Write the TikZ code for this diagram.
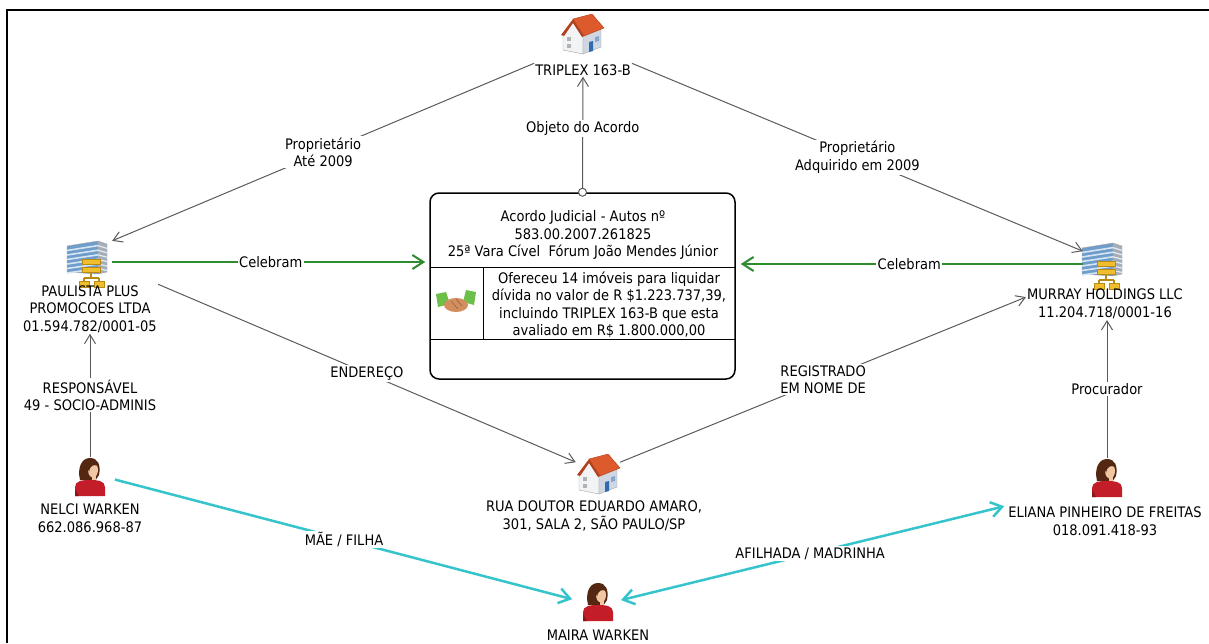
\documentclass[tikz,border=0pt]{standalone}
\usepackage{fontspec}
\setmainfont{DejaVu Sans}[FakeStretch=0.9]
\usetikzlibrary{arrows.meta}
\definecolor{conngray}{HTML}{5A5A5A}
\definecolor{conngreen}{HTML}{2E8B2E}
\definecolor{conncyan}{HTML}{35C4CB}
\definecolor{roofred}{HTML}{DD5A2C}
\definecolor{roofdark}{HTML}{B5401C}
\definecolor{wallwhite}{HTML}{F2F3F5}
\definecolor{wallgray}{HTML}{CFD7E2}
\definecolor{doorblue}{HTML}{2F6DB0}
\definecolor{glassblue}{HTML}{6F9DCB}
\definecolor{glasslight}{HTML}{D6E5F3}
\definecolor{sidegray}{HTML}{A3AEBA}
\definecolor{netyellow}{HTML}{F0BE2C}
\definecolor{netdark}{HTML}{B78A12}
\definecolor{hair}{HTML}{532711}
\definecolor{skin}{HTML}{F1C6A3}
\definecolor{shirt}{HTML}{C41D2A}
\definecolor{sleeve}{HTML}{6CC04A}
\definecolor{hand}{HTML}{D38E5E}
\tikzset{
  house/.pic={
    \draw[gray!70, fill=wallwhite] (-19,-1) -- (-9,-13) -- (1,-1) -- (1,19) -- (-19,15) -- cycle;
    \draw[gray!70, fill=wallgray] (1,-1) -- (19,-6) -- (19,12) -- (1,19) -- cycle;
    \draw[roofdark, fill=roofred] (-9,-16) -- (10,-21) -- (22,-7) -- (2,1) -- cycle;
    \fill[roofdark] (-21,0) -- (-9,-16) -- (2,1) -- (0,2) -- (-9,-12) -- (-18,1) -- cycle;
    \fill[gray!60] (-15,2) rectangle (-11,6);
    \fill[gray!60] (-15,9) rectangle (-11,13);
    \fill[doorblue] (7,7) -- (11,6) -- (11,16) -- (7,17) -- cycle;
    \fill[doorblue!60] (13,2) -- (17,1) -- (17,6) -- (13,7) -- cycle;
  },
  building/.pic={
    \draw[gray!70, fill=glassblue] (-23,-16) -- (8,-21) -- (8,12) -- (-23,10) -- cycle;
    \draw[gray!70, fill=sidegray] (8,-21) -- (17,-18) -- (17,10) -- (8,12) -- cycle;
    \foreach \k in {1,...,6} {
      \draw[glasslight, line width=1.6] (-23,-16+4.5*\k) -- (8,-21+4.6*\k);
      \draw[white!75!sidegray, line width=1.2] (8,-21+4.6*\k) -- (17,-18+4.4*\k);
    }
    \draw[netdark, fill=netyellow] (-8,-3) rectangle (10,2);
    \draw[netdark, fill=netyellow] (-8,5) rectangle (10,10);
    \draw[netdark, line width=1.3] (1,10) -- (1,16) (-6,16) -- (9,16) (-6,16) -- (-6,19) (9,16) -- (9,19);
    \draw[netdark, fill=netyellow] (-11,19) rectangle (-1,25);
    \draw[netdark, fill=netyellow] (4,19) rectangle (14,25);
  },
  person/.pic={
    \fill[hair] (-10,3) .. controls (-13,-10) and (-8,-19) .. (0,-19) .. controls (8,-19) and (11,-12) .. (9,-2) -- (5,4) -- cycle;
    \fill[skin] (2,-2) rectangle (6,5);
    \fill[shirt] (-15,19) -- (-15,10) .. controls (-15,4) and (-8,3) .. (0,3) .. controls (8,3) and (15,4) .. (15,10) -- (15,19) -- cycle;
    \fill[skin] (3,-7) ellipse [x radius=5, y radius=7.5];
    \fill[hair] (-4,-14) .. controls (1,-17) and (6,-16) .. (8,-11) .. controls (4,-13) and (0,-12) .. (-1,-5) -- cycle;
    \fill[shirt!70!black] (-15,19) -- (-15,12) -- (-11,19) -- cycle;
  },
  handshake/.pic={
    \fill[sleeve] (-20,-8) -- (-10,-10) -- (-6,2) -- (-18,5) -- cycle;
    \fill[sleeve] (20,-10) -- (10,-12) -- (7,0) -- (18,3) -- cycle;
    \fill[hand] (0,3) ellipse [x radius=12, y radius=7];
    \draw[hand!70!black, line width=0.6] (-5,-1) -- (2,7) (0,-3) -- (6,4);
  },
  icon/.style={minimum width=44pt, minimum height=42pt, inner sep=0pt},
  picon/.style={minimum width=30pt, minimum height=40pt, inner sep=0pt},
  ent/.style={align=center, inner sep=1pt},
  lbl/.style={align=center, inner sep=1.5pt, fill=white},
  gconn/.style={draw=conngray, line width=1pt, -{Straight Barb[length=9pt,width=11pt]}},
  grconn/.style={draw=conngreen, line width=2pt, -{Straight Barb[length=11pt,width=14pt]}},
  cyconn/.style={draw=conncyan, line width=2.5pt, -{Straight Barb[length=11pt,width=15pt]}},
}
\begin{document}
\begin{tikzpicture}[x=1pt, y=-1pt, font=\fontsize{14.5}{17.5}\selectfont]
\useasboundingbox (0,0) rectangle (1209,643);
\draw[line width=2.5pt] (7,643) -- (7,10) -- (1209,10);

% entities
\node[icon] (triplex) at (582,35) {};
\pic at (triplex) {house};
\node[ent] (triplexl) at (583,70) {TRIPLEX 163-B};

\node[icon] (paulista) at (90,262) {};
\pic at (paulista) {building};
\node[ent] (paulistal) at (90,309) {PAULISTA PLUS\\PROMOCOES LTDA\\01.594.782/0001-05};

\node[icon] (murray) at (1105,264) {};
\pic at (murray) {building};
\node[ent] (murrayl) at (1105,304) {MURRAY HOLDINGS LLC\\11.204.718/0001-16};

\node[icon] (rua) at (598,475) {};
\pic at (rua) {house};
\node[ent] (rual) at (594,516) {RUA DOUTOR EDUARDO AMARO,\\301, SALA 2, SÃO PAULO/SP};

\node[picon] (nelci) at (90,477) {};
\pic at (nelci) {person};
\node[ent] (nelcil) at (90,518) {NELCI WARKEN\\662.086.968-87};

\node[picon] (eliana) at (1107,478) {};
\pic at (eliana) {person};
\node[ent] (elianal) at (1105,521) {ELIANA PINHEIRO DE FREITAS\\018.091.418-93};

\node[picon] (maira) at (598,602) {};
\pic at (maira) {person};
\node[ent] (mairal) at (598,635) {MAIRA WARKEN};

% acordo box
\node[draw, line width=1.5pt, rounded corners=9pt, minimum width=305pt, minimum height=186pt] (acordo) at (582.5,286) {};
\draw[line width=1pt] (430,267) -- (735,267);
\draw[line width=1pt] (430,339) -- (735,339);
\draw[line width=1pt] (483,267) -- (483,339);
\node[ent] (acordoh) at (583,235) {Acordo Judicial - Autos nº\\583.00.2007.261825\\25ª Vara Cível~~Fórum João Mendes Júnior};
\node[ent] (acordob) at (609,305) {Ofereceu 14 imóveis para liquidar\\dívida no valor de R \$1.223.737,39,\\incluindo TRIPLEX 163-B que esta\\avaliado em R\$ 1.800.000,00};
\node[minimum width=40pt, minimum height=26pt, inner sep=0pt] (hs) at (456,302) {};
\pic at (hs) {handshake};

% connectors
\draw[gconn] (triplexl.north west) -- node[lbl, pos=0.5] {Proprietário\\Até 2009} (paulista.north east);
\draw[gconn] (triplexl.north east) -- node[lbl, pos=0.5] {Proprietário\\Adquirido em 2009} (murray.150);
\draw[gconn] (acordo.north) -- node[lbl, pos=0.55] {Objeto do Acordo} (triplexl.south);
\draw[draw=conngray, fill=white, line width=1pt] (acordo.north) circle (4pt);
\draw[grconn, shorten >=4pt] (paulista.east) -- node[lbl, pos=0.5] {Celebram} (acordo.west |- paulista.east);
\draw[grconn, shorten >=5pt] (murray.west) -- node[lbl, pos=0.5] {Celebram} (acordo.east |- murray.west);
\draw[gconn] (paulistal.north east) -- node[lbl, pos=0.5] {ENDEREÇO} (rua.150);
\draw[gconn] (rua.30) -- node[lbl, pos=0.5] {REGISTRADO\\EM NOME DE} (murrayl.175);
\draw[gconn] (nelci.north) -- node[lbl, pos=0.5] {RESPONSÁVEL\\49 - SOCIO-ADMINIS} (paulistal.south);
\draw[gconn] (eliana.north) -- node[lbl, pos=0.5] {Procurador} (eliana.north |- murrayl.south);
\draw[cyconn, shorten <=10pt, shorten >=11pt] (nelci.east) -- node[lbl, pos=0.5] {MÃE / FILHA} (maira.west);
\draw[cyconn, {Straight Barb[length=11pt,width=15pt]}-{Straight Barb[length=11pt,width=15pt]}, shorten <=8pt, shorten >=3pt] (maira.east) -- node[lbl, pos=0.5] {AFILHADA / MADRINHA} (elianal.north west);
\end{tikzpicture}
\end{document}
